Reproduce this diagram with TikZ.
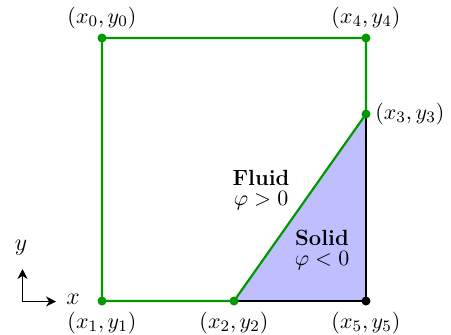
\documentclass[tikz,border=0pt]{standalone}
\usetikzlibrary{arrows.meta}
\begin{document}
\begin{tikzpicture}[x=0.5pt,y=-0.5pt,
  every node/.style={font=\fontsize{11}{13}\selectfont},
  gline/.style={draw=green!60!black,line width=1.1pt},
  gdot/.style={circle,fill=green!60!black,inner sep=0pt,minimum size=4.5pt},
  bdot/.style={circle,fill=black,inner sep=0pt,minimum size=4.5pt},
  lbl/.style={inner sep=1pt},
  axl/.style={inner sep=1pt,font=\fontsize{12}{14}\selectfont},
  axarr/.style={-{Stealth[length=5pt,width=5pt]},line width=0.9pt}]
\useasboundingbox (0,0) rectangle (451,334);
\coordinate (p0) at (102,38);
\coordinate (p4) at (366,38);
\coordinate (p3) at (366,114);
\coordinate (p2) at (234,301);
\coordinate (p1) at (102,301);
\coordinate (p5) at (366,301);
\fill[blue!25] (p2) -- (p3) -- (p5) -- cycle;
\draw[black,line width=0.6pt] (p3) -- (p5) -- (p2);
\draw[gline,line join=round] (p0) -- (p4) -- (p3) -- (p2) -- (p1) -- cycle;
\node[gdot] (n0) at (p0) {};
\node[gdot] (n4) at (p4) {};
\node[gdot] (n3) at (p3) {};
\node[gdot] (n2) at (p2) {};
\node[gdot] (n1) at (p1) {};
\node[bdot] (n5) at (p5) {};
\node[lbl] (l0) at (102,18) {$(x_0,y_0)$};
\node[lbl] (l4) at (366,18) {$(x_4,y_4)$};
\node[lbl,anchor=west] (l3) at (373,114) {$(x_3,y_3)$};
\node[lbl] (l1) at (102,323) {$(x_1,y_1)$};
\node[lbl] (l2) at (234,323) {$(x_2,y_2)$};
\node[lbl] (l5) at (366,323) {$(x_5,y_5)$};
\node[lbl,align=center] (fl) at (261,190) {\textbf{Fluid}\\[-3pt]$\varphi>0$};
\node[lbl,align=center] (so) at (322,250) {\textbf{Solid}\\[-3pt]$\varphi<0$};
\coordinate (o) at (22.5,301.5);
\coordinate (ox) at (56,301.5);
\coordinate (oy) at (22.5,269);
\draw[axarr] (o) -- (ox);
\draw[axarr] (o) -- (oy);
\node[axl] (xl) at (73,299) {$x$};
\node[axl] (yl) at (21,248) {$y$};
\end{tikzpicture}
\end{document}
